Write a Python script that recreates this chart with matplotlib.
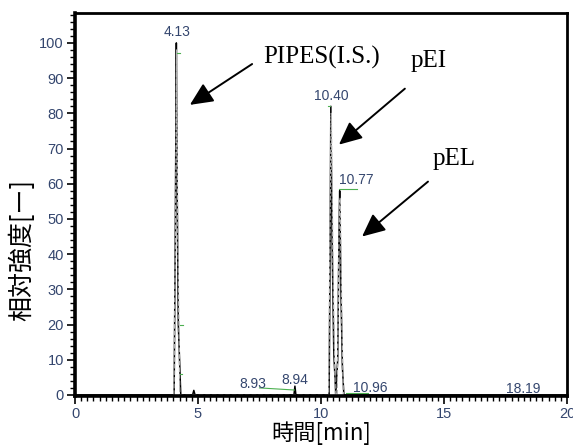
import matplotlib.pyplot as plt
from matplotlib.ticker import MultipleLocator

# chromatogram trace (time [min], relative intensity)
time = [0.0, 4.03, 4.08, 4.12, 4.15, 4.20, 4.30, 4.78, 4.83, 4.88,
        8.90, 8.94, 8.98, 10.33, 10.37, 10.40, 10.45, 10.52, 10.60,
        10.68, 10.73, 10.76, 10.81, 10.87, 10.93, 20.0]
signal = [0.0, 0.0, 50, 100, 60, 20, 0.0, 0.0, 1.3, 0.0,
          0.0, 2.5, 0.0, 0.0, 40, 82, 45, 12, 0.5,
          10, 45, 58, 30, 8, 0.0, 0.0]

# dashed (integration) overlay
fit_time = [4.02, 4.10, 4.13, 4.18, 4.26, 10.31, 10.38, 10.42, 10.50, 10.58,
            10.66, 10.74, 10.78, 10.85, 10.91]
fit_signal = [0.0, 60, 98, 45, 0.0, 0.0, 60, 80, 30, 0.0,
              0.0, 50, 56, 20, 0.0]

# peak labels
peak_text = ["4.13", "10.40", "10.77", "8.93", "8.94", "10.96", "18.19"]
peak_x = [4.15, 10.43, 11.45, 7.24, 8.94, 12.0, 18.2]
peak_y = [103, 85, 61, 3.1, 4.3, 2.0, 1.6]

# green baseline marks
green_x0 = [4.13, 4.28, 4.28, 10.30, 10.74, 7.5, 11.0]
green_x1 = [4.25, 4.38, 4.36, 10.38, 11.45, 8.92, 11.9]
green_y0 = [97, 20, 6, 82, 58.5, 2.0, 0.6]
green_y1 = [97, 20, 6, 82, 58.5, 1.4, 0.6]

# compound annotations: text position, arrow start, arrow tip
ann_text = ["PIPES(I.S.)", "pEI", "pEL"]
ann_x = [7.64, 13.65, 14.55]
ann_y = [96, 95, 67]
arrow_x0 = [7.2, 13.41, 14.35]
arrow_y0 = [94, 87, 60.6]
arrow_x1 = [4.67, 10.73, 11.67]
arrow_y1 = [82.4, 71.1, 45]

label_color = "#34466e"

fig = plt.figure(figsize=(5.73, 4.46), dpi=100)
ax = fig.add_axes([0.1309, 0.1121, 0.8586, 0.8588])

ax.plot(time, signal, color="black", linewidth=1.1)
ax.plot(fit_time, fit_signal, color="#b0b0b0", linewidth=0.9, linestyle="--")

for x0, x1, y0, y1 in zip(green_x0, green_x1, green_y0, green_y1):
    ax.plot([x0, x1], [y0, y1], color="#4cb050", linewidth=0.8)

for t, x, y in zip(peak_text, peak_x, peak_y):
    ax.text(x, y, t, ha="center", va="center", fontsize=10,
            color=label_color, family="Liberation Sans")

for t, x, y in zip(ann_text, ann_x, ann_y):
    ax.text(x, y, t, ha="left", va="center", fontsize=18,
            family="Liberation Serif", color="black")

for x0, y0, x1, y1 in zip(arrow_x0, arrow_y0, arrow_x1, arrow_y1):
    ax.annotate("", xy=(x1, y1), xytext=(x0, y0),
                arrowprops=dict(arrowstyle="-|>,head_length=1.4,head_width=0.65",
                                color="black", linewidth=1.4, shrinkA=0, shrinkB=0))

ax.set_xlim(0, 20)
ax.set_ylim(-0.3, 108.5)

ax.xaxis.set_major_locator(MultipleLocator(5))
ax.xaxis.set_minor_locator(MultipleLocator(0.25))
ax.yaxis.set_major_locator(MultipleLocator(10))
ax.yaxis.set_minor_locator(MultipleLocator(2))
ax.set_yticks(range(0, 101, 10))

ax.tick_params(which="major", direction="out", length=6, width=1.2,
               labelsize=10.5, labelcolor=label_color, pad=2)
ax.tick_params(which="minor", direction="out", length=3.5, width=1.0)
for lab in ax.get_xticklabels() + ax.get_yticklabels():
    lab.set_family("Liberation Sans")
ax.tick_params(right=False, top=False)

for side in ["left", "bottom"]:
    ax.spines[side].set_linewidth(2.6)
for side in ["top", "right"]:
    ax.spines[side].set_linewidth(2.0)

cjk = ["Noto Sans CJK JP", "DejaVu Sans"]
ax.set_xlabel("時間[min]", fontsize=16, family=cjk, labelpad=0.5)
ax.set_ylabel("相対強度[ー]", fontsize=18, family=cjk)
ax.yaxis.set_label_coords(-0.08, 0.38)

fig.savefig("out.png", dpi=100)
